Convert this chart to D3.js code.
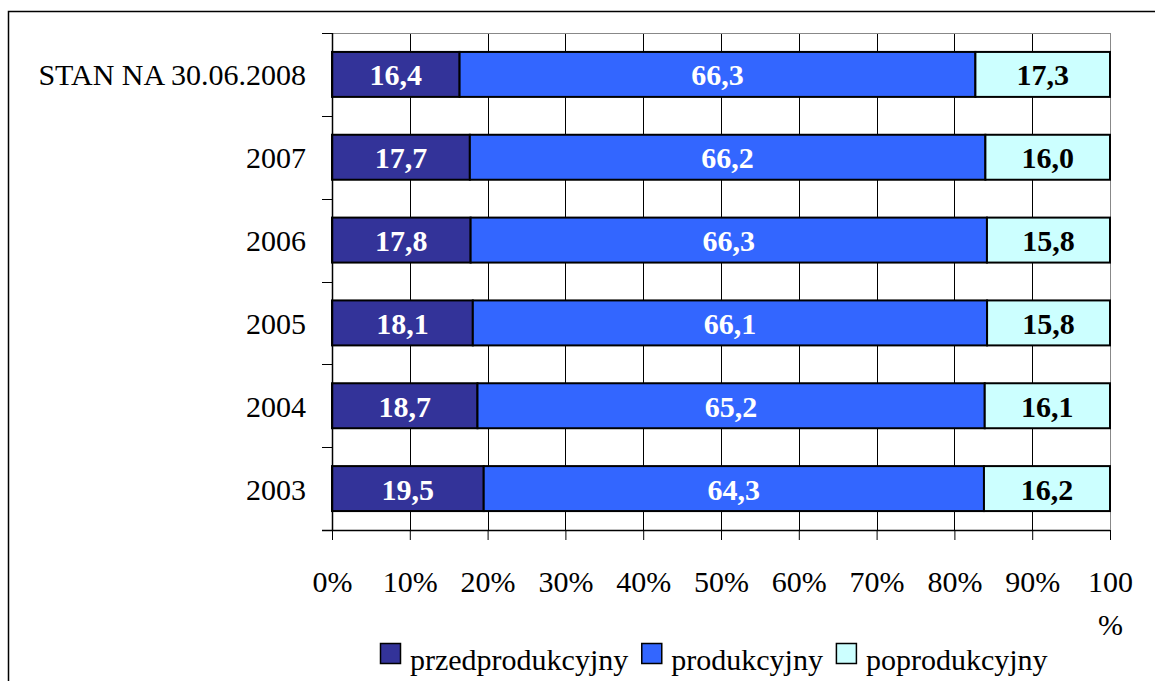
<!DOCTYPE html>
<html>
<head>
<meta charset="utf-8">
<script src="https://cdn.jsdelivr.net/npm/d3@7"></script>
<style>
body{margin:0;background:#fff;}
text{font-family:"Liberation Serif","Times New Roman",serif;}
</style>
</head>
<body>
<script>
// data, top row first
var categories=['STAN NA 30.06.2008','2007','2006','2005','2004','2003'];
var przedprodukcyjny=[16.4,17.7,17.8,18.1,18.7,19.5];
var produkcyjny=[66.3,66.2,66.3,66.1,65.2,64.3];
var poprodukcyjny=[17.3,16.0,15.8,15.8,16.1,16.2];
var seriesNames=['przedprodukcyjny','produkcyjny','poprodukcyjny'];
var seriesColors=['#333399','#3366ff','#ccffff'];
var labelColors=['#ffffff','#ffffff','#000000'];
var tickValues=[0,10,20,30,40,50,60,70,80,90,100];
var tickLabels=['0%','10%','20%','30%','40%','50%','60%','70%','80%','90%','100\n%'];

var width=1155,height=681;
var svg=d3.select('body').append('svg').attr('width',width).attr('height',height);

// outer frame
svg.append('rect')
.attr('x',8.5).attr('y',11.5)
.attr('width',width).attr('height',height)
.style('fill','none').style('stroke','#000').style('stroke-width',1.5);

var x=d3.scaleLinear().domain([0,100]).range([332,1110]);
var y=d3.scaleBand().domain(categories).range([33,530]).paddingInner(0.457).paddingOuter(0.2285);

// gridlines
svg.append('g').selectAll('line')
.data(tickValues.slice(1))
.enter().append('line')
.attr('x1',d=>Math.round(x(d))+0.5).attr('x2',d=>Math.round(x(d))+0.5)
.attr('y1',33).attr('y2',530)
.style('stroke',(d)=>d==100?'#888':'#000').style('stroke-width',1);
// top border of plot
svg.append('line').attr('x1',332).attr('x2',1111).attr('y1',33.5).attr('y2',33.5)
.style('stroke','#888');

// stacked rows, normalised to 100%
var rows=categories.map(function(c,i){
    var vals=[przedprodukcyjny[i],produkcyjny[i],poprodukcyjny[i]];
    var tot=d3.sum(vals);
    var acc=0;
    return vals.map(function(v,j){
        var seg={cat:c,v:v,s:j,x0:acc/tot*100,x1:(acc+v)/tot*100};
        acc+=v;
        return seg;
    });
});
var segs=[].concat.apply([],rows);

var bars=svg.append('g');
bars.selectAll('rect')
.data(segs)
.enter().append('rect')
.attr('x',d=>x(d.x0))
.attr('y',d=>y(d.cat))
.attr('width',d=>x(d.x1)-x(d.x0))
.attr('height',y.bandwidth())
.style('fill',d=>seriesColors[d.s])
.style('stroke','#000').style('stroke-width',2);

bars.selectAll('text')
.data(segs)
.enter().append('text')
.attr('x',d=>(x(d.x0)+x(d.x1))/2)
.attr('y',d=>y(d.cat)+y.bandwidth()/2+11)
.attr('text-anchor','middle')
.style('font-size','30px').style('font-weight','bold')
.style('fill',d=>labelColors[d.s])
.text(d=>d.v.toFixed(1).replace('.',','));

// y axis
var yAxis=svg.append('g')
.attr('transform','translate(332,0)')
.call(d3.axisLeft(y).tickSize(0).tickPadding(26));
yAxis.select('.domain').remove();
yAxis.selectAll('text').style('font-size','30px').style('fill','#000')
.attr('dy',null).attr('y',11);
svg.append('line').attr('x1',332.5).attr('x2',332.5).attr('y1',33).attr('y2',531)
.style('stroke','#000').style('stroke-width',1.5);
svg.append('g').selectAll('line')
.data(d3.range(categories.length+1))
.enter().append('line')
.attr('x1',322).attr('x2',332)
.attr('y1',i=>Math.round(33+i*y.step())+0.5)
.attr('y2',i=>Math.round(33+i*y.step())+0.5)
.style('stroke','#000');

// x axis
var xAxis=svg.append('g')
.attr('transform','translate(0,530)')
.call(d3.axisBottom(x).tickValues(tickValues).tickSizeInner(10).tickSizeOuter(0).tickFormat((d,i)=>tickLabels[i]));
xAxis.select('.domain').attr('d','M322,0.5H1110').style('stroke','#000').style('stroke-width',1.5);
xAxis.selectAll('.tick line').style('stroke','#000');
xAxis.selectAll('.tick text')
.style('font-size','30px').style('fill','#000')
.attr('y',62).attr('dy',null)
.each(function(){
    var t=d3.select(this);
    var parts=t.text().split('\n');
    if(parts.length>1){
        t.text(null);
        parts.forEach(function(p,k){
            t.append('tspan').attr('x',0).attr('dy',k==0?0:43).text(p);
        });
    }
});

// legend
var legend=svg.append('g').attr('transform','translate(380,643)');
var lx=0;
seriesNames.forEach(function(n,i){
    var g=legend.append('g').attr('transform','translate('+lx+',0)');
    g.append('rect').attr('x',0.5).attr('y',0.5).attr('width',20).attr('height',20)
    .style('fill',seriesColors[i]).style('stroke','#000').style('stroke-width',1.5);
    var t=g.append('text').attr('x',30).attr('y',27)
    .style('font-size','30px').style('fill','#000').text(n);
    lx+=30+t.node().getComputedTextLength()+13;
});
</script>
</body>
</html>
